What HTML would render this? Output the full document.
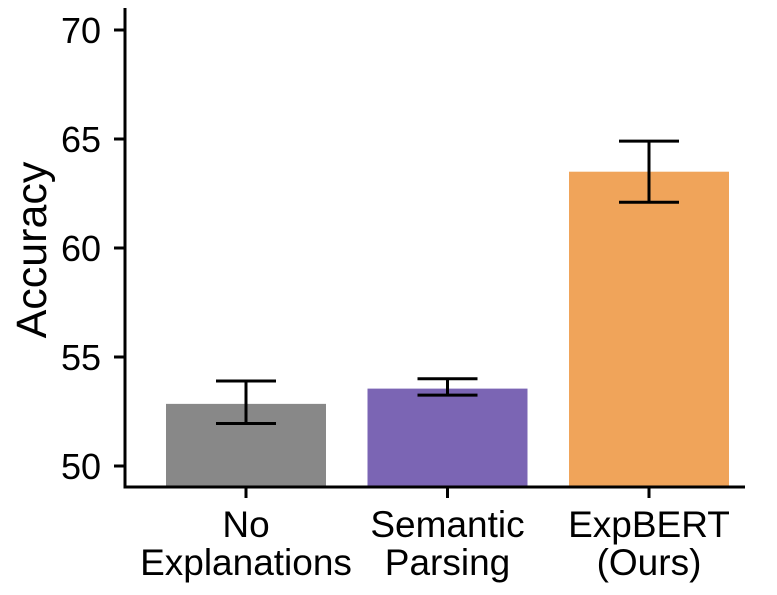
<!DOCTYPE html>
<html><head><meta charset="utf-8"><style>
body{margin:0;background:#fff}
svg text{font-family:"Liberation Sans",sans-serif;fill:#000}
</style></head><body>
<svg id="chart" width="777" height="590">
<g id="g"></g>
</svg>
<script>
const categories=[["No","Explanations"],["Semantic","Parsing"],["ExpBERT","(Ours)"]];
const values=[52.85,53.55,63.5];
const errLow=[51.95,53.25,62.1];
const errHigh=[53.9,54.0,64.9];
const colors=["#888888","#7b65b4","#f0a45a"];
const yTicks=[50,55,60,65,70];
const NS="http://www.w3.org/2000/svg";
const g=document.getElementById('g');
const y=v=>466-(v-50)*21.8;
const x=i=>246+i*201.5;
function el(t,a){const e=document.createElementNS(NS,t);for(const k in a)e.setAttribute(k,a[k]);g.appendChild(e);return e;}
const bottom=487;
values.forEach((v,i)=>{
 const b=el('rect',{x:x(i)-80,y:y(v),width:160,height:bottom-y(v),fill:colors[i]});
 
 
 const e=el('path',{d:`M${x(i)-30},${y(errHigh[i])}H${x(i)+30}M${x(i)},${y(errHigh[i])}V${y(errLow[i])}M${x(i)-30},${y(errLow[i])}H${x(i)+30}`,stroke:'#000','stroke-width':3,fill:'none'});
 
 
 el('line',{x1:x(i),x2:x(i),y1:bottom,y2:bottom+11,stroke:'#000','stroke-width':3});
 categories[i].forEach((s,j)=>{
  const t=el('text',{x:x(i),y:537+j*38,'text-anchor':'middle','font-size':37});t.textContent=s;
  
  
 });
});
yTicks.forEach(v=>{
 el('line',{x1:114,x2:125,y1:y(v),y2:y(v),stroke:'#000','stroke-width':3});
 const t=el('text',{x:101,y:y(v)+13,'text-anchor':'end','font-size':36});t.textContent=v;
 
 
});
const ax=el('path',{d:`M125,8V${bottom}H745`,stroke:'#000','stroke-width':3,fill:'none'});


const yt=el('text',{x:0,y:0,'text-anchor':'middle','font-size':43,transform:'translate(46,250) rotate(-90)'});
yt.textContent='Accuracy';


</script>
</body></html>
